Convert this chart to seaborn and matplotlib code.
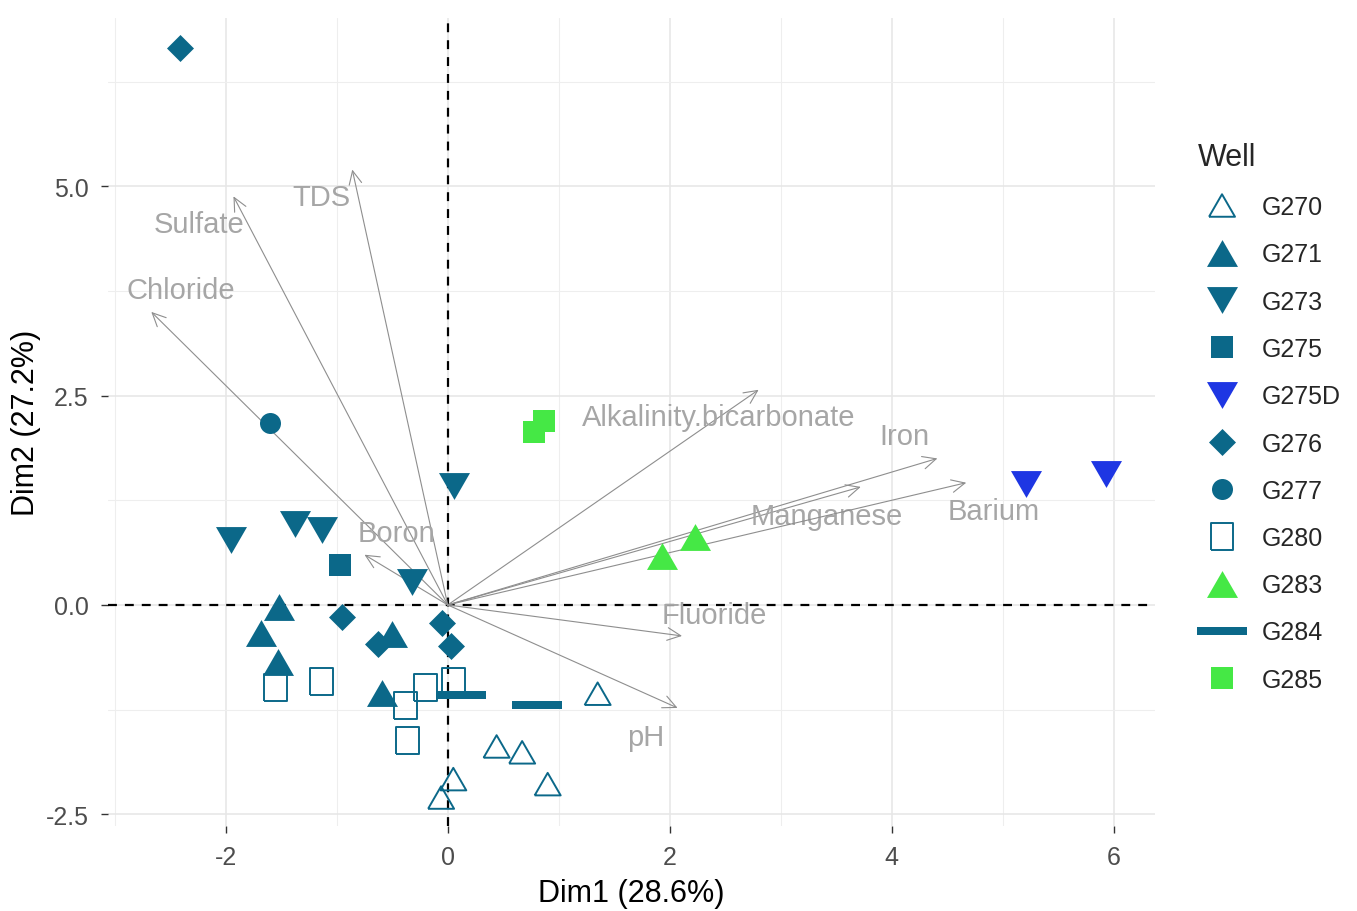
import matplotlib
matplotlib.use("Agg")
import matplotlib.pyplot as plt
import numpy as np
import pandas as pd
import seaborn as sns

# ---- PCA individuals: scores on Dim1 / Dim2 for each monitoring well ----
wells = ["G270", "G271", "G273", "G275", "G275D", "G276", "G277",
         "G280", "G283", "G284", "G285"]

g270_dim1 = [1.35, 0.44, 0.67, 0.90, 0.05, -0.06]
g270_dim2 = [-1.06, -1.69, -1.76, -2.14, -2.08, -2.30]
g271_dim1 = [-1.52, -1.68, -1.53, -0.50, -0.59]
g271_dim2 = [-0.02, -0.33, -0.68, -0.35, -1.05]
g273_dim1 = [-1.95, -1.38, -1.13, -0.32, 0.06]
g273_dim2 = [0.77, 0.97, 0.89, 0.28, 1.42]
g275_dim1 = [-0.97]
g275_dim2 = [0.48]
g275d_dim1 = [5.21, 5.93]
g275d_dim2 = [1.45, 1.56]
g276_dim1 = [-2.41, -0.95, -0.63, -0.05, 0.03]
g276_dim2 = [6.65, -0.14, -0.47, -0.22, -0.49]
g277_dim1 = [-1.60]
g277_dim2 = [2.17]
g280_dim1 = [-1.55, -1.14, -0.38, -0.20, 0.05, -0.36]
g280_dim2 = [-0.99, -0.91, -1.20, -0.98, -0.92, -1.62]
g283_dim1 = [1.93, 2.23]
g283_dim2 = [0.59, 0.81]
g284_dim1 = [0.12, 0.80]
g284_dim2 = [-1.08, -1.20]
g285_dim1 = [0.87, 0.78]
g285_dim2 = [2.20, 2.06]

# ---- PCA variables: loadings (arrow tips) and label anchors ----
var_names = ["Chloride", "Sulfate", "TDS", "Boron", "Alkalinity.bicarbonate",
             "Iron", "Manganese", "Barium", "Fluoride", "pH"]
var_dim1 = [-2.67, -1.93, -0.86, -0.75, 2.80, 4.41, 3.72, 4.67, 2.11, 2.07]
var_dim2 = [3.50, 4.88, 5.20, 0.60, 2.57, 1.75, 1.41, 1.46, -0.37, -1.23]
label_dim1 = [-2.40, -2.24, -1.14, -0.46, 2.44, 4.11, 3.41, 4.92, 2.40, 1.78]
label_dim2 = [3.76, 4.55, 4.87, 0.86, 2.24, 2.02, 1.06, 1.12, -0.12, -1.58]

score_lists = {
    "G270": (g270_dim1, g270_dim2), "G271": (g271_dim1, g271_dim2),
    "G273": (g273_dim1, g273_dim2), "G275": (g275_dim1, g275_dim2),
    "G275D": (g275d_dim1, g275d_dim2), "G276": (g276_dim1, g276_dim2),
    "G277": (g277_dim1, g277_dim2), "G280": (g280_dim1, g280_dim2),
    "G283": (g283_dim1, g283_dim2), "G284": (g284_dim1, g284_dim2),
    "G285": (g285_dim1, g285_dim2),
}
points = pd.concat(
    [pd.DataFrame({"Well": w, "Dim1": d1, "Dim2": d2})
     for w, (d1, d2) in score_lists.items()],
    ignore_index=True,
)

# ---- styling ----
TEAL = "#0B6889"
BLUE = "#1E36E3"
GREEN = "#45E845"
colors = {"G270": TEAL, "G271": TEAL, "G273": TEAL, "G275": TEAL,
          "G275D": BLUE, "G276": TEAL, "G277": TEAL, "G280": TEAL,
          "G283": GREEN, "G284": TEAL, "G285": GREEN}


def closed(verts):
    return verts + [verts[0]]


tri_up = closed([(-1, -0.866), (1, -0.866), (0, 0.866)])
tri_down = closed([(-1, 0.866), (1, 0.866), (0, -0.866)])
square = closed([(-1, -1), (1, -1), (1, 1), (-1, 1)])
tall_square = closed([(-0.85, -1), (0.85, -1), (0.85, 1), (-0.85, 1)])
diamond = closed([(0, 1), (1, 0), (0, -1), (-1, 0)])
bar = closed([(-1, -0.14), (1, -0.14), (1, 0.14), (-1, 0.14)])

PX = 0.72  # points per pixel at 100 dpi
# marker, size in px, hollow?
marker_style = {
    "G270": (tri_up, 26, True),
    "G271": (tri_up, 31, False),
    "G273": (tri_down, 31, False),
    "G275": (square, 22, False),
    "G275D": (tri_down, 31, False),
    "G276": (diamond, 27, False),
    "G277": ("o", 21, False),
    "G280": (tall_square, 27, True),
    "G283": (tri_up, 31, False),
    "G284": (bar, 50, False),
    "G285": (square, 22, False),
}

sns.set_theme(style="white")
plt.rcParams["font.family"] = ["Liberation Sans", "DejaVu Sans"]
plt.rcParams["axes.unicode_minus"] = False

fig = plt.figure(figsize=(13.57, 9.12), dpi=100)
ax = fig.add_axes([108 / 1357, 1 - 827 / 912, (1155 - 108) / 1357, (827 - 19) / 912])

xmin, xmax = -3.06, 6.37
ymin, ymax = -2.64, 7.01
ax.set_xlim(xmin, xmax)
ax.set_ylim(ymin, ymax)

# grid
ax.set_xticks([-2, 0, 2, 4, 6])
ax.set_yticks([-2.5, 0, 2.5, 5.0])
ax.set_yticklabels(["-2.5", "0.0", "2.5", "5.0"])
ax.set_xticks([-3, -1, 1, 3, 5], minor=True)
ax.set_yticks([-1.25, 1.25, 3.75, 6.25], minor=True)
ax.grid(True, which="major", color="#E6E6E6", linewidth=1.1, zorder=0)
ax.grid(True, which="minor", color="#EEEEEE", linewidth=0.8, zorder=0)
ax.set_axisbelow(True)
for sp in ax.spines.values():
    sp.set_visible(False)
ax.tick_params(which="major", length=5, width=1.0, color="#333333",
               labelcolor="#4D4D4D", labelsize=18, pad=9,
               bottom=True, left=True)
ax.tick_params(which="minor", length=0)

# origin reference lines
ax.axhline(0, color="black", linewidth=1.6, linestyle=(0, (4, 3.6)), zorder=2)
ax.axvline(0, color="black", linewidth=1.6, linestyle=(0, (4, 3.6)), zorder=2)

# variable arrows and labels
for name, vx, vy, lx, ly in zip(var_names, var_dim1, var_dim2, label_dim1, label_dim2):
    ax.annotate("", xy=(vx, vy), xytext=(0, 0),
                arrowprops=dict(arrowstyle="->,head_length=0.8,head_width=0.38",
                                color="#8E8E8E", lw=0.8, shrinkA=0, shrinkB=0),
                zorder=3)
    ax.text(lx, ly, name, ha="center", va="center", color="#A6A6A6",
            fontsize=21, zorder=3)

# individuals
handles = []
for well in wells:
    sub = points[points["Well"] == well]
    mk, size_px, hollow = marker_style[well]
    s = (size_px * PX) ** 2
    col = colors[well]
    if hollow:
        sns.scatterplot(data=sub, x="Dim1", y="Dim2", marker=mk, s=s,
                        color=col, facecolor="none", edgecolor=col,
                        linewidth=1.4, label=well, legend=False, ax=ax, zorder=4)
    else:
        sns.scatterplot(data=sub, x="Dim1", y="Dim2", marker=mk, s=s,
                        color=col, edgecolor=col, linewidth=0,
                        label=well, legend=False, ax=ax, zorder=4)
    handles.append(ax.collections[-1])

ax.set_xlabel("Dim1 (28.6%)", fontsize=22, color="black", labelpad=6)
ax.set_ylabel("Dim2 (27.2%)", fontsize=22, color="black", labelpad=3)

leg = fig.legend(handles, wells, title="Well", loc="upper left",
                 bbox_to_anchor=(1198 / 1357, 1 - 143 / 912),
                 frameon=False, fontsize=18, title_fontsize=22,
                 borderpad=0, borderaxespad=0, handlelength=1.92,
                 handletextpad=0.64, labelspacing=0.93, scatterpoints=1,
                 scatteryoffsets=[0.5], alignment="left")

fig.savefig("out.png", dpi=100)
